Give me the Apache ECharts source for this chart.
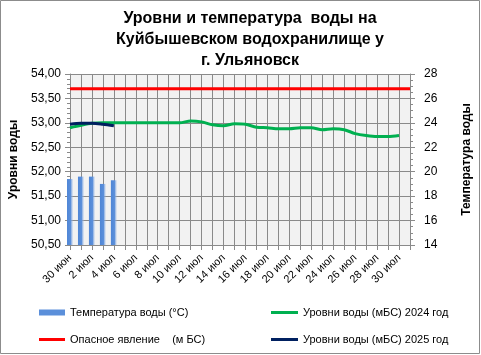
<!DOCTYPE html>
<html>
<head>
<meta charset="utf-8">
<script src="https://cdn.jsdelivr.net/npm/echarts@6/dist/echarts.min.js"></script>
<style>
  html, body { margin: 0; padding: 0; background: #fff; }
  #chart { width: 481px; height: 355px; }
</style>
</head>
<body>
<div id="chart"></div>
<script>
// даты: 30 июн .. 31 июл
const days = ['30 июн'];
for (let d = 1; d <= 31; d++) days.push(d + ' июл');

// температура воды (°C), 2025
const tempWater = [19.4, 19.6, 19.6, 19.0, 19.3];
// опасное явление (м БС)
const dangerLevel = days.map(() => 53.7);
// уровни воды 2024
const level2024 = [52.90, 52.95, 52.99, 53.00, 53.00, 53.00, 53.00, 53.00, 53.00, 53.00,
  53.00, 53.04, 53.02, 52.96, 52.94, 52.98, 52.97, 52.91, 52.90, 52.88,
  52.88, 52.90, 52.90, 52.86, 52.88, 52.86, 52.78, 52.74, 52.72, 52.72, 52.74];
// уровни воды 2025
const level2025 = [52.97, 52.99, 52.99, 52.97, 52.94];

const font = 'Liberation Sans, Arial, sans-serif';
const gridColor = '#8a8a8a';

const chart = echarts.init(document.getElementById('chart'));

// легенда: по одному элементу в каждой
const legendBase = {
  orient: 'horizontal',
  itemWidth: 27,
  itemGap: 4,
  selectedMode: false,
  textStyle: { fontFamily: font, fontSize: 11, color: '#000' }
};

chart.setOption({
  animation: false,
  title: {
    text: 'Уровни и температура  воды на\nКуйбышевском водохранилище у\nг. Ульяновск',
    left: 245,
    textAlign: 'center',
    top: 3,
    textStyle: { fontFamily: font, fontSize: 16, fontWeight: 'bold', lineHeight: 21, color: '#000' }
  },
  graphic: [{
    type: 'rect',
    shape: { x: 0.5, y: 0.5, width: 479, height: 353 },
    style: { fill: 'none', stroke: '#8c8c8c', lineWidth: 1 },
    silent: true
  }],
  legend: [
    { ...legendBase, left: 34, top: 302, itemWidth: 26, itemHeight: 6,
      data: [{ name: 'Температура воды (°С)', icon: 'rect', itemStyle: { color: '#5b8fda' } }] },
    { ...legendBase, left: 34, top: 329, itemWidth: 26, itemHeight: 3,
      data: [{ name: 'Опасное явление    (м БС)', icon: 'rect' }] },
    { ...legendBase, left: 266, top: 302, itemWidth: 27, itemHeight: 3,
      data: [{ name: 'Уровни воды (мБС) 2024 год', icon: 'rect' }] },
    { ...legendBase, left: 266, top: 329, itemWidth: 27, itemHeight: 3,
      data: [{ name: 'Уровни воды (мБС) 2025 год', icon: 'rect' }] }
  ],
  grid: { left: 67, right: 70, top: 74, bottom: 110, show: true, backgroundColor: '#f2f2f2', borderWidth: 0 },
  xAxis: {
    type: 'category',
    data: days,
    boundaryGap: false,
    axisLine: { lineStyle: { color: gridColor } },
    axisTick: { show: true, interval: 0, length: 5, lineStyle: { color: gridColor } },
    axisLabel: { interval: 1, rotate: 45, fontFamily: font, fontSize: 11, color: '#000', margin: 11 },
    splitLine: { show: true, interval: 0, lineStyle: { color: gridColor, width: 1 } }
  },
  yAxis: [{
    type: 'value',
    min: 50.5,
    max: 54,
    interval: 0.5,
    name: 'Уровни воды',
    nameLocation: 'middle',
    nameGap: 50,
    nameRotate: 90,
    nameTextStyle: { fontFamily: font, fontSize: 12, fontWeight: 'bold', color: '#000' },
    axisLine: { show: true, lineStyle: { color: gridColor } },
    axisTick: { show: true, length: 5, lineStyle: { color: gridColor } },
    minorTick: { show: true, splitNumber: 5, length: 3, lineStyle: { color: gridColor } },
    axisLabel: { fontFamily: font, fontSize: 12, color: '#000', margin: 9,
      formatter: v => v.toFixed(2).replace('.', ',') },
    splitLine: { show: true, lineStyle: { color: gridColor, width: 1 } }
  }, {
    type: 'value',
    min: 14,
    max: 28,
    interval: 2,
    position: 'right',
    name: 'Температура воды',
    nameLocation: 'middle',
    nameGap: 51,
    nameRotate: 90,
    nameTextStyle: { fontFamily: font, fontSize: 12, fontWeight: 'bold', color: '#000' },
    axisLine: { show: true, lineStyle: { color: gridColor } },
    axisTick: { show: true, length: 5, lineStyle: { color: gridColor } },
    minorTick: { show: true, splitNumber: 4, length: 3, lineStyle: { color: gridColor } },
    axisLabel: { fontFamily: font, fontSize: 12, color: '#000', margin: 14 },
    splitLine: { show: false }
  }],
  series: [{
    name: 'Температура воды (°С)',
    type: 'bar',
    yAxisIndex: 1,
    data: tempWater,
    barWidth: 6,
    itemStyle: {
      color: new echarts.graphic.LinearGradient(0, 0, 1, 0, [
        { offset: 0, color: '#4f86d6' },
        { offset: 0.6, color: '#5b8fda' },
        { offset: 1, color: 'rgba(160,190,235,0.2)' }
      ])
    }
  }, {
    name: 'Опасное явление    (м БС)',
    type: 'line',
    data: dangerLevel,
    symbol: 'none',
    lineStyle: { color: '#ff0000', width: 3 },
    itemStyle: { color: '#ff0000' }
  }, {
    name: 'Уровни воды (мБС) 2024 год',
    type: 'line',
    data: level2024,
    smooth: 0.3,
    symbol: 'none',
    lineStyle: { color: '#00b050', width: 3 },
    itemStyle: { color: '#00b050' }
  }, {
    name: 'Уровни воды (мБС) 2025 год',
    type: 'line',
    data: level2025,
    smooth: 0.3,
    symbol: 'none',
    lineStyle: { color: '#002060', width: 3 },
    itemStyle: { color: '#002060' }
  }]
});
</script>
</body>
</html>
